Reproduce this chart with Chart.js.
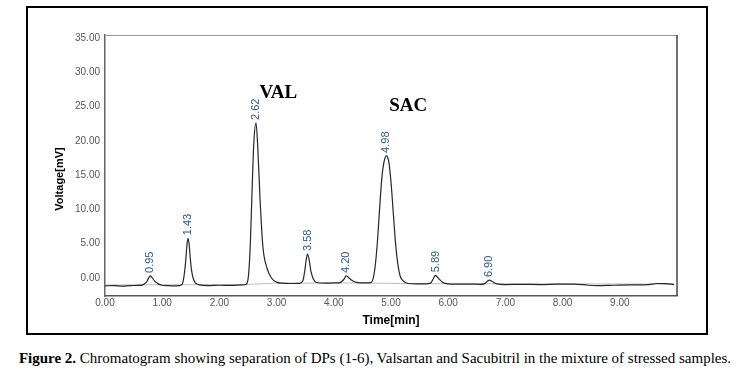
<!DOCTYPE html>
<html>
<head>
<meta charset="utf-8">
<script src="https://cdn.jsdelivr.net/npm/chart.js@4"></script>
<style>
  body { margin: 0; background: #fff; }
  #wrap { position: relative; width: 740px; height: 370px; }
  #frame { position: absolute; left: 26px; top: 6px; width: 682px; height: 329px; box-sizing: border-box; border: 2px solid #000; }
  #chart { position: absolute; left: 0; top: 0; }
  #caption { position: absolute; left: 0; width: 750px; top: 350px; text-align: center;
             font-family: "Liberation Serif", "Times New Roman", serif; font-size: 15px; line-height: 17px; color: #000; white-space: nowrap; }
</style>
</head>
<body>
<div id="wrap">
  <div id="frame"></div>
  <canvas id="chart" width="740" height="340"></canvas>
  <div id="caption"><b>Figure 2.</b> Chromatogram showing separation of DPs (1-6), Valsartan and Sacubitril in the mixture of stressed samples.</div>
</div>
<script>
// chromatogram trace (time in min, voltage in mV)
const signalTime = [
  0.00, 0.15, 0.30, 0.45, 0.58, 0.66, 0.72, 0.76, 0.79, 0.82, 0.87, 0.93, 1.00, 1.10, 1.20,
  1.30, 1.35, 1.38, 1.41, 1.43, 1.45, 1.47, 1.49, 1.51, 1.54, 1.58, 1.65, 1.80, 2.00, 2.20,
  2.40, 2.47, 2.51, 2.54, 2.57, 2.60, 2.64, 2.67, 2.71, 2.76, 2.83, 2.91, 3.00, 3.10, 3.25,
  3.40, 3.46, 3.49, 3.52, 3.54, 3.57, 3.60, 3.64, 3.70, 3.85, 4.00, 4.10, 4.17, 4.22, 4.28,
  4.36, 4.45, 4.55, 4.63, 4.68, 4.72, 4.76, 4.80, 4.84, 4.88, 4.92, 4.96, 5.00, 5.04, 5.08,
  5.12, 5.16, 5.22, 5.30, 5.45, 5.60, 5.69, 5.74, 5.78, 5.83, 5.90, 6.00, 6.20, 6.40, 6.55,
  6.63, 6.68, 6.72, 6.77, 6.85, 7.00, 7.30, 7.60, 7.90, 8.20, 8.45, 8.60, 8.90, 9.20, 9.50,
  9.65, 9.80, 9.95
];
const signalVolt = [
  -1.15, -1.10, -1.18, -1.10, -1.08, -1.00, -0.65, -0.05, 0.30, 0.10, -0.45, -0.85, -1.05, -1.12, -1.15,
  -1.10, -0.90, 0.20, 2.40, 4.60, 5.80, 5.00, 3.00, 1.30, 0.00, -0.70, -1.00, -1.10, -1.05, -1.08,
  -1.00, -0.90, 0.50, 4.80, 12.4, 19.4, 22.6, 19.2, 11.6, 4.60, 1.50, 0.00, -0.60, -0.75, -0.80,
  -0.78, -0.40, 0.90, 2.80, 3.50, 2.60, 1.00, -0.10, -0.65, -0.75, -0.72, -0.70, -0.25, 0.30, -0.10,
  -0.55, -0.70, -0.72, -0.70, -0.30, 1.50, 5.00, 10.0, 14.6, 17.0, 17.8, 17.0, 14.0, 9.50, 5.00,
  2.00, 0.30, -0.50, -0.80, -0.85, -0.85, -0.75, -0.10, 0.40, -0.05, -0.60, -0.85, -0.90, -0.88, -0.92,
  -0.85, -0.50, -0.30, -0.50, -0.85, -0.95, -0.92, -0.95, -0.90, -0.88, -1.05, -1.10, -1.05, -1.00, -0.95,
  -0.80, -0.82, -0.95
];

// integration baseline (light grey line under the trace)
const baseTime = [0.00, 2.45, 2.95, 4.60, 5.25, 9.95];
const baseVolt = [-1.00, -0.95, -0.75, -0.72, -0.82, -0.88];

// peak labels
const peakTimes = [0.79, 1.45, 2.64, 3.54, 4.22, 4.92, 5.78, 6.72];
const peakTops = [0.30, 5.80, 22.6, 3.50, 0.30, 17.8, 0.40, -0.30];
const peakLabels = ['0.95', '1.43', '2.62', '3.58', '4.20', '4.98', '5.89', '6.90'];

// compound names
const compoundNames = ['VAL', 'SAC'];
const compoundTimes = [3.03, 5.30];
const compoundLevels = [26.9, 25.0];

// tick labels
const xTickValues = [0, 1, 2, 3, 4, 5, 6, 7, 8, 9];
const yTickValues = [0, 5, 10, 15, 20, 25, 30, 35];

const sansFont = '"Liberation Sans", Arial, sans-serif';

// peak labels, compound names, y title and the top/right plot border
const peakTextPlugin = {
    id: 'peakText',
    beforeDatasetsDraw(chart) {
        const { ctx, chartArea } = chart;
        ctx.save();
        ctx.lineWidth = 1;
        ctx.strokeStyle = '#9a9a9a';
        ctx.beginPath();
        ctx.moveTo(chartArea.left, chartArea.top + 0.5);
        ctx.lineTo(chartArea.right, chartArea.top + 0.5);
        ctx.stroke();
        ctx.lineWidth = 1.5;
        ctx.strokeStyle = '#444';
        ctx.beginPath();
        ctx.moveTo(chartArea.right, chartArea.top);
        ctx.lineTo(chartArea.right, chartArea.bottom);
        ctx.stroke();

        // y axis title sits a bit below the middle in the original
        ctx.font = 'bold 11px ' + sansFont;
        ctx.fillStyle = '#000';
        ctx.textAlign = 'center';
        ctx.textBaseline = 'middle';
        ctx.translate(60, 179);
        ctx.rotate(-Math.PI / 2);
        ctx.fillText('Voltage[mV]', 0, 0);
        ctx.restore();
    },
    afterDatasetsDraw(chart) {
        const { ctx } = chart;
        const xs = chart.scales.x;
        const ys = chart.scales.y;
        ctx.save();
        ctx.font = '11px ' + sansFont;
        ctx.fillStyle = '#2a5d8c';
        ctx.textAlign = 'left';
        ctx.textBaseline = 'middle';
        peakLabels.forEach((txt, i) => {
            const px = xs.getPixelForValue(peakTimes[i]);
            const py = ys.getPixelForValue(peakTops[i]) - 3;
            ctx.save();
            ctx.translate(px, py);
            ctx.rotate(-Math.PI / 2);
            ctx.fillText(txt, 0, 0);
            ctx.restore();
        });
        ctx.font = 'bold 19px "Liberation Serif", "Times New Roman", serif';
        ctx.fillStyle = '#000';
        ctx.textAlign = 'center';
        compoundNames.forEach((name, i) => {
            ctx.fillText(name, xs.getPixelForValue(compoundTimes[i]), ys.getPixelForValue(compoundLevels[i]));
        });
        ctx.restore();
    }
};

const ctx = document.getElementById('chart').getContext('2d');
new Chart(ctx, {
    type: 'line',
    data: {
        datasets: [{
            label: 'Signal',
            data: signalTime.map((t, i) => ({ x: t, y: signalVolt[i] })),
            borderColor: '#262626',
            borderWidth: 1.2,
            cubicInterpolationMode: 'monotone',
            pointRadius: 0,
            fill: false
        }, {
            label: 'Baseline',
            data: baseTime.map((t, i) => ({ x: t, y: baseVolt[i] })),
            borderColor: '#bdbdbd',
            borderWidth: 1,
            pointRadius: 0,
            fill: false
        }]
    },
    options: {
        responsive: false,
        animation: false,
        layout: {
            padding: { left: 0, right: 63, top: 35, bottom: 0 }
        },
        plugins: {
            legend: { display: false },
            tooltip: { enabled: false }
        },
        scales: {
            x: {
                type: 'linear',
                min: 0,
                max: 10,
                afterBuildTicks: scale => { scale.ticks = xTickValues.map(v => ({ value: v })); },
                afterFit: scale => { scale.height = 44; },
                grid: { display: false, drawTicks: false },
                border: { display: true, color: '#555', width: 1.5 },
                ticks: {
                    padding: 1,
                    color: '#555',
                    font: { family: sansFont, size: 10 },
                    maxRotation: 0,
                    callback: v => Number(v).toFixed(2)
                },
                title: {
                    display: true,
                    text: 'Time[min]',
                    color: '#000',
                    font: { family: sansFont, size: 12, weight: 'bold' },
                    padding: { top: 0, bottom: 12 }
                }
            },
            y: {
                type: 'linear',
                min: -2.62,
                max: 35.42,
                afterBuildTicks: scale => { scale.ticks = yTickValues.map(v => ({ value: v })); },
                afterFit: scale => { scale.width = 105; },
                grid: { display: false, drawTicks: false },
                border: { display: true, color: '#666', width: 1.5 },
                ticks: {
                    padding: 5,
                    color: '#555',
                    font: { family: sansFont, size: 10 },
                    callback: v => Number(v).toFixed(2)
                }
            }
        }
    },
    plugins: [peakTextPlugin]
});
</script>
</body>
</html>
